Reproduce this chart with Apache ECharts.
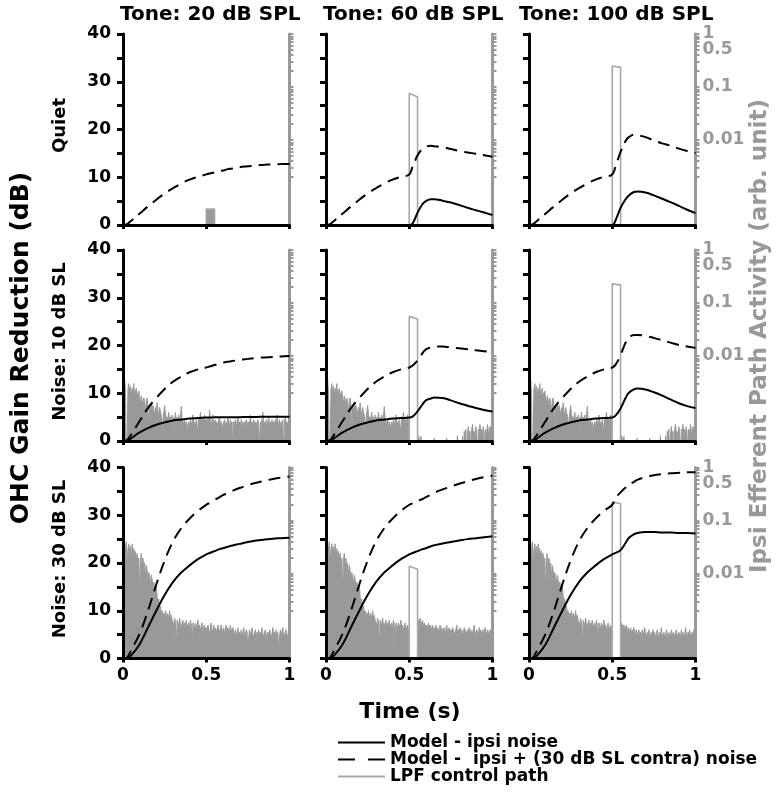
<!DOCTYPE html>
<html><head><meta charset="utf-8">
<script src="https://cdn.jsdelivr.net/npm/echarts@6/dist/echarts.min.js"></script>
<style>html,body{margin:0;padding:0;background:#fff}#chart{width:780px;height:793px}</style>
</head><body><div id="chart"></div>
<script>
// ---------- text ----------
const columnTitles = ['Tone: 20 dB SPL', 'Tone: 60 dB SPL', 'Tone: 100 dB SPL'];
const rowTitles = ['Quiet', 'Noise: 10 dB SL', 'Noise: 30 dB SL'];
const seriesNames = ['Model - ipsi noise', 'Model -  ipsi + (30 dB SL contra) noise', 'LPF control path'];
const leftAxisTitle = 'OHC Gain Reduction (dB)';
const rightAxisTitle = 'Ipsi Efferent Path Activity (arb. unit)';
const xAxisTitle = 'Time (s)';
const rightLabelValues = [1, 0.1, 0.01];
const rightExtraLabelValues = [0.5];

// ---------- model curves: OHC gain reduction (dB) ----------
const tPre = [0, 0.02, 0.05, 0.1, 0.15, 0.2, 0.25, 0.3, 0.35, 0.4, 0.45, 0.5];
const tPost = [0.52, 0.55, 0.58, 0.6, 0.63, 0.65, 0.7, 0.75, 0.8, 0.85, 0.9, 0.95, 1];

const quietIpsiPre = [0, 0, 0, 0, 0, 0, 0, 0, 0, 0, 0, 0];
const quietContraPre = [0, 0.1, 0.9, 2.4, 3.9, 5.3, 6.6, 7.7, 8.7, 9.5, 10.1, 10.6];
const quietIpsi20 = [0, 0, 0, 0, 0, 0, 0, 0, 0, 0, 0, 0, 0];
const quietContra20 = [10.8, 11.0, 11.3, 11.4, 11.7, 11.8, 12.1, 12.3, 12.5, 12.6, 12.7, 12.75, 12.8];
const quietIpsi60 = [0.3, 2.6, 4.4, 5.0, 5.4, 5.4, 5.1, 4.7, 4.2, 3.6, 3.1, 2.6, 2.1];
const quietContra60 = [12.2, 14.6, 16.0, 16.4, 16.6, 16.5, 16.3, 15.9, 15.5, 15.2, 14.9, 14.6, 14.3];
const quietIpsi100 = [1.0, 3.6, 5.4, 6.2, 6.9, 7.0, 6.8, 6.2, 5.5, 4.8, 4.0, 3.2, 2.5];
const quietContra100 = [12.3, 15.3, 17.6, 18.4, 18.9, 18.8, 18.4, 17.7, 17.1, 16.6, 16.0, 15.5, 15.1];

const n10IpsiPre = [0, 0, 0.6, 1.8, 2.7, 3.4, 3.9, 4.3, 4.5, 4.7, 4.8, 4.9];
const n10ContraPre = [0, 0.1, 1.4, 4.2, 6.9, 9.0, 10.9, 12.4, 13.5, 14.4, 15.0, 15.4];
const n10Ipsi20 = [4.9, 5.0, 5.0, 5.0, 5.0, 5.0, 5.0, 5.05, 5.05, 5.1, 5.1, 5.1, 5.1];
const n10Contra20 = [15.6, 15.9, 16.2, 16.4, 16.6, 16.7, 17.0, 17.2, 17.4, 17.5, 17.6, 17.7, 17.8];
const n10Ipsi60 = [5.1, 6.2, 7.7, 8.5, 8.9, 9.1, 9.0, 8.5, 7.9, 7.4, 6.9, 6.5, 6.2];
const n10Contra60 = [15.8, 16.9, 18.4, 19.2, 19.6, 19.8, 19.8, 19.6, 19.4, 19.2, 19.0, 18.8, 18.6];
const n10Ipsi100 = [5.3, 6.8, 9.0, 10.1, 10.8, 11.0, 10.8, 10.2, 9.5, 8.7, 7.9, 7.3, 6.9];
const n10Contra100 = [16.0, 18.0, 20.6, 21.6, 22.2, 22.2, 22.0, 21.6, 21.1, 20.6, 20.1, 19.8, 19.5];

const n30IpsiPre = [0, 0, 0.7, 3.0, 6.5, 10.0, 13.3, 16.0, 18.0, 19.5, 20.8, 21.8];
const n30ContraPre = [0, 0.1, 1.8, 5.2, 10.0, 15.5, 20.5, 24.5, 27.3, 29.3, 30.9, 32.2];
const n30Ipsi20 = [22.1, 22.5, 22.9, 23.1, 23.4, 23.6, 24.0, 24.4, 24.7, 24.9, 25.1, 25.2, 25.3];
const n30Contra20 = [32.6, 33.2, 33.8, 34.2, 34.7, 35.0, 35.7, 36.3, 36.8, 37.2, 37.6, 37.9, 38.1];
const n30Ipsi60 = [22.1, 22.5, 22.9, 23.1, 23.5, 23.7, 24.1, 24.4, 24.7, 25.0, 25.2, 25.4, 25.6];
const n30Contra60 = [32.5, 33.0, 33.4, 33.8, 34.3, 34.7, 35.4, 36.0, 36.6, 37.1, 37.6, 38.0, 38.3];
const n30Ipsi100 = [22.1, 22.7, 24.2, 25.3, 26.0, 26.3, 26.5, 26.5, 26.4, 26.4, 26.3, 26.3, 26.2];
const n30Contra100 = [33.6, 34.8, 35.8, 36.3, 37.0, 37.4, 38.0, 38.4, 38.6, 38.8, 38.9, 39.0, 39.0];

// ---------- LPF control path: log10(arb. unit), sampled every 5 ms ----------
const noiseStep = 0.005;
const n10NoisePre = [
  -2.48,-2.61,-2.43,-2.70,-4,-3.51,
  -2.61,-2.52,-2.70,-2.57,-2.75,-2.61,-2.66,-2.52,-2.79,-2.66,-2.61,-2.75,-2.70,-2.66,
  -2.79,-2.88,-2.75,-2.84,-2.93,-2.79,-2.88,-3.06,-2.84,-2.79,-2.93,-3.45,
  -2.97,-3.02,-2.88,-3.06,-2.93,-3.02,-3.11,-2.97,-3.06,-2.88,-3.02,-3.15,-2.97,-3.06,-3.11,-3.50,-3.20,-3.06,-2.93,-3.11,
  -3.11,-3.20,-3.15,-3.06,-3.24,-3.15,-3.20,-3.11,-3.55,-3.15,-3.20,-3.06,-3.24,-3.15,-3.20,-3.11,-3.24,-3.15,-2.95,-3.20,
  -3.24,-3.29,-3.20,-3.33,-3.24,-3.50,-3.29,-3.24,-3.33,-3.20,-3.29,-3.24,-3.11,-3.29,-3.24,-3.33,-3.20,-3.55,-3.29,-3.15,
  -3.20,-3.06,-3.24,-3.15,-3.29,-3.20,-3.11,-3.24];
const n10NoisePost20 = [
  -3.20,-3.29,-3.15,-3.24,-3.02,-3.24,-3.29,-3.20,-3.11,-3.33,-3.24,-3.20,-3.29,-3.24,-3.33,-3.20,-3.15,-3.29,-3.24,-3.38,
  -3.29,-3.24,-3.20,-3.33,-3.24,-3.29,-3.15,-3.24,-3.33,-3.20,-3.29,-3.24,-3.90,-3.24,-3.29,-3.20,-3.33,-3.24,-3.15,-3.29,
  -3.24,-3.33,-3.20,-3.29,-3.24,-3.38,-3.24,-3.29,-3.20,-3.24,-3.33,-3.24,-3.29,-3.11,-3.29,-3.24,-3.33,-3.20,-3.29,-3.24,
  -3.33,-3.24,-3.20,-3.29,-3.80,-3.24,-3.29,-3.20,-3.06,-3.29,-3.24,-3.33,-3.20,-3.29,-3.24,-3.15,-3.33,-3.24,-3.29,-3.20,
  -3.33,-3.24,-3.29,-3.20,-3.33,-3.11,-3.24,-3.29,-3.20,-3.33,-3.24,-3.29,-3.20,-3.90,-3.24,-3.15,-3.29,-3.24,-3.33,-3.20,-3.24];
const n10NoiseTonePost = [
  -4,-4,-4,-4,-4,-4,-4,-4,-4,-4,-4,
  -3.50,-3.56,-4,-3.51,-4,-4,
  -4,-4,-4,-4,-4,-4,-4,-4,-4,-4,-4,-4,-4,-3.55,-4,-4,-4,-4,-4,-4,-4,-4,-4,-4,-4,-4,-4,-4,-3.55,
  -4,-4,-4,-4,-4,-4,-4,-4,-4,-4,-4,-4,-3.50,-4,-4,-4,-4,-4,
  -3.51,-4,-3.42,-3.56,-3.38,-4,-3.47,-3.33,-3.51,-3.42,-4,-3.38,-3.29,-3.47,-3.42,-3.56,-3.33,-3.47,-4,-3.38,
  -3.42,-3.29,-3.51,-3.38,-3.47,-3.33,-4,-3.42,-3.38,-3.51,-3.29,-3.42,-3.47,-3.33,-3.38,-3.51,-3.42];
const n30NoisePre = [
  -1.49,-1.94,-1.44,-1.58,-1.40,-1.89,-1.53,-1.44,-1.62,-1.49,-1.71,-1.44,-1.58,-1.53,-1.67,-1.58,-1.76,
  -1.62,-1.85,-1.71,-2.39,-1.76,-1.62,-1.89,-1.71,-1.94,-1.80,-2.07,-1.85,
  -1.94,-2.16,-1.98,-2.07,-2.21,-2.03,-2.12,-2.30,-2.16,-2.25,-2.34,-2.21,
  -2.43,-2.57,-2.48,-2.66,-2.61,-2.75,
  -2.70,-2.84,-2.75,-2.79,-2.70,-2.88,-2.75,-2.79,-2.84,-2.70,-2.84,-2.79,-2.88,
  -2.88,-2.97,-2.84,-2.93,-3.45,-2.88,-2.93,-2.97,-2.84,-2.97,-3.02,-2.93,-2.88,-3.06,-2.93,-2.97,
  -2.88,-3.02,-2.97,-2.93,-3.06,-2.88,-2.97,-3.50,-2.93,-2.97,-3.06,-2.93,-3.02,-2.97,-2.88,-3.02,
  -2.97,-3.06,-3.02,-2.93,-3.11,-3.02,-2.97,-3.06];
const n30NoisePost20 = [
  -3.02,-3.11,-2.97,-3.06,-3.15,-3.02,-2.93,-3.11,-3.06,-2.97,-3.11,-3.02,-3.06,-3.15,-2.97,-3.06,-3.11,-3.02,-2.97,-3.11,
  -3.06,-3.02,-3.15,-3.06,-2.97,-3.11,-3.02,-3.06,-3.11,-2.97,-3.06,-3.15,-3.02,
  -3.11,-3.15,-3.06,-3.20,-3.11,-3.02,-3.15,-3.11,-3.20,-3.06,-3.15,-3.11,-3.02,-3.20,-3.15,-3.06,-3.11,-3.50,-3.20,-3.06,
  -3.15,-3.11,-3.02,-3.15,-3.20,-3.11,-3.06,-3.15,-3.11,-3.20,-3.06,-3.15,-3.11,-3.15,-3.02,-3.20,-3.15,-3.11,-3.06,-3.15,
  -3.20,-3.11,-3.15,-3.06,-3.11,-3.20,-3.15,-3.02,-3.15,-3.11,-3.20,-3.06,-3.15,-3.11,-3.50,-3.20,-3.06,-3.11,-3.15,-3.02,
  -3.20,-3.15,-3.11,-3.06,-3.15,-3.20,-3.11,-3.15];
const n30NoisePost60 = [
  -4,-4,-4,-4,-4,-4,-4,-4,-4,-4,-4,
  -2.88,-2.93,-2.84,-2.97,-2.93,-2.88,-3.02,-2.93,-2.97,-3.02,-2.97,-3.06,-2.93,-3.02,-2.97,-3.06,-3.02,-2.97,-3.11,-3.02,
  -3.06,-2.97,-3.11,-3.02,-3.06,-3.11,-2.97,-3.06,-3.02,-3.11,-3.06,-3.02,-3.15,-3.06,-2.97,-3.11,-3.06,-3.02,-3.15,-3.06,
  -3.11,-3.02,-3.06,-3.15,-3.11,-3.06,-2.97,-3.11,-3.06,-3.15,-3.02,-3.11,-3.06,-3.15,-3.11,-3.02,-3.06,-3.15,-3.11,-3.06,
  -3.15,-3.02,-3.11,-3.06,-3.15,-3.11,-3.06,-2.97,-3.11,-3.15,-3.06,-3.11,-3.15,-3.02,-3.11,-3.06,-3.15,-3.11,-3.06,-3.15,
  -3.02,-3.11,-3.15,-3.06,-3.11,-3.15,-3.06,-3.11,-3.02,-3.15];
const n30NoisePost100 = [
  -4,-4,-4,-4,-4,-4,-4,-4,-4,-4,-4,
  -2.93,-2.97,-3.02,-2.97,-3.06,-3.02,-2.97,-3.11,-3.02,-3.06,-3.11,-3.02,-3.15,-3.06,-3.11,-3.02,-3.15,-3.11,-3.06,-3.20,
  -3.11,-3.06,-3.15,-3.11,-3.20,-3.06,-3.15,-3.11,-3.02,-3.15,-3.20,-3.11,-3.15,-3.06,-3.20,-3.15,-3.11,-3.20,-3.06,-3.15,
  -3.11,-3.20,-3.15,-3.06,-3.15,-3.20,-3.11,-3.15,-3.02,-3.20,-3.15,-3.11,-3.20,-3.15,-3.06,-3.15,-3.20,-3.11,-3.15,-3.20,
  -3.06,-3.15,-3.11,-3.20,-3.15,-3.11,-3.06,-3.20,-3.15,-3.11,-3.15,-3.20,-3.06,-3.15,-3.11,-3.20,-3.15,-3.02,-3.15,-3.20,
  -3.11,-3.15,-3.06,-3.20,-3.15,-3.11,-3.15,-3.06,-3.20,-3.11];

// tone-evoked LPF pulse: [level at onset, level at offset] in arb. unit (null = not visible)
const toneOn = 0.5, toneOff = 0.55;
const pulseQuiet = [[5.0e-4, 5.0e-4], [0.076, 0.065], [0.25, 0.235]];
const pulseN10 = [null, [0.056, 0.050], [0.23, 0.22]];
const pulseN30 = [null, [0.0138, 0.012], [0.22, 0.21]];
const lpfFloor = 1e-4;

// ---------- assemble ----------
const curveIpsi = [
  [[quietIpsiPre, quietIpsi20], [quietIpsiPre, quietIpsi60], [quietIpsiPre, quietIpsi100]],
  [[n10IpsiPre, n10Ipsi20], [n10IpsiPre, n10Ipsi60], [n10IpsiPre, n10Ipsi100]],
  [[n30IpsiPre, n30Ipsi20], [n30IpsiPre, n30Ipsi60], [n30IpsiPre, n30Ipsi100]]];
const curveContra = [
  [[quietContraPre, quietContra20], [quietContraPre, quietContra60], [quietContraPre, quietContra100]],
  [[n10ContraPre, n10Contra20], [n10ContraPre, n10Contra60], [n10ContraPre, n10Contra100]],
  [[n30ContraPre, n30Contra20], [n30ContraPre, n30Contra60], [n30ContraPre, n30Contra100]]];
const noiseParts = [
  [null, null, null],
  [[n10NoisePre, n10NoisePost20], [n10NoisePre, n10NoiseTonePost], [n10NoisePre, n10NoiseTonePost]],
  [[n30NoisePre, n30NoisePost20], [n30NoisePre, n30NoisePost60], [n30NoisePre, n30NoisePost100]]];
const pulses = [pulseQuiet, pulseN10, pulseN30];

const colLeft = [123, 326, 529];
const rowTop = [34, 250, 467.5];
const gridW = 166.5, gridH = 191;
const FONT = '"DejaVu Sans", sans-serif';
const GRAY = '#999999';
const PULSE_GRAY = '#a8a8a8';
const LOG_MIN = 2.5e-4, LOG_MAX = 1;

function curve(parts) {
  const t = tPre.concat(tPost), v = parts[0].concat(parts[1]);
  return t.map((x, i) => [x, v[i]]);
}
function noise(parts) {
  const out = [];
  parts[0].forEach((e, i) => out.push([+(i * noiseStep).toFixed(3), Math.pow(10, e)]));
  parts[1].forEach((e, i) => out.push([+(0.5 + i * noiseStep).toFixed(3), Math.pow(10, e)]));
  return out;
}
const rightTicks = [];
for (let d = -3; d <= -1; d++) for (let k = 1; k <= 9; k++) { const v = +(k * Math.pow(10, d)).toPrecision(3); if (v >= 0.002) rightTicks.push(v); }
rightTicks.push(1);

const rightLabelStyle = {color: GRAY, fontFamily: FONT, fontWeight: 'bold', fontSize: 17, margin: 7,
  showMinLabel: true, showMaxLabel: true, formatter: v => String(+(+v).toPrecision(2))};

const grid = [], xAxis = [], yAxis = [], series = [];
for (let r = 0; r < 3; r++) for (let c = 0; c < 3; c++) {
  const gi = r * 3 + c;
  grid.push({left: colLeft[c], top: rowTop[r], width: gridW, height: gridH});
  xAxis.push({gridIndex: gi, type: 'value', min: 0, max: 1, interval: 0.5, z: 5,
    axisLine: {show: true, onZero: false, lineStyle: {color: '#000', width: 3}},
    axisTick: {show: true, length: 4, lineStyle: {color: '#000', width: 3}},
    axisLabel: {show: r === 2, margin: 9, color: '#000', fontFamily: FONT, fontWeight: 'bold', fontSize: 17,
      showMinLabel: true, showMaxLabel: true},
    splitLine: {show: false}});
  const leftIdx = yAxis.length;
  yAxis.push({gridIndex: gi, type: 'value', min: 0, max: 40, interval: 5, position: 'left', z: 5,
    axisLine: {show: true, onZero: false, lineStyle: {color: '#000', width: 3}},
    axisTick: {show: true, length: 6, lineStyle: {color: '#000', width: 3}},
    axisLabel: {show: c === 0, margin: 12, color: '#000', fontFamily: FONT, fontWeight: 'bold', fontSize: 17,
      showMinLabel: true, showMaxLabel: true,
      formatter: v => (v % 10 === 0 ? String(v) : '')},
    splitLine: {show: false}});
  const rightIdx = yAxis.length;
  yAxis.push({gridIndex: gi, type: 'log', logBase: 10, min: LOG_MIN, max: LOG_MAX, position: 'right', z: 1,
    axisLine: {show: true, onZero: false, lineStyle: {color: GRAY, width: 3}},
    axisTick: {show: true, length: 4, customValues: rightTicks, lineStyle: {color: GRAY, width: 2}},
    axisLabel: Object.assign({show: c === 2, customValues: rightLabelValues}, rightLabelStyle),
    minorTick: {show: false}, splitLine: {show: false}});
  if (c === 2) yAxis.push({gridIndex: gi, type: 'log', logBase: 10, min: LOG_MIN, max: LOG_MAX, position: 'right', z: 1,
    axisLine: {show: false}, axisTick: {show: false},
    axisLabel: Object.assign({show: true, customValues: rightExtraLabelValues}, rightLabelStyle),
    minorTick: {show: false}, splitLine: {show: false}});

  const np = noiseParts[r][c];
  if (np) series.push({type: 'line', name: seriesNames[2], xAxisIndex: gi, yAxisIndex: rightIdx,
    data: noise(np), symbol: 'none', z: 1, lineStyle: {color: GRAY, width: 1},
    itemStyle: {color: GRAY}, areaStyle: {color: GRAY, opacity: 1, origin: 'start'}});
  const p = pulses[r][c];
  if (p) series.push({type: 'line', name: seriesNames[2], xAxisIndex: gi, yAxisIndex: rightIdx,
    data: [[toneOn, lpfFloor], [toneOn, p[0]], [toneOff, p[1]], [toneOff, lpfFloor]],
    symbol: 'none', z: 1, lineStyle: {color: PULSE_GRAY, width: 1.6}, itemStyle: {color: PULSE_GRAY},
    areaStyle: (r === 0 && c === 0) ? {color: GRAY, opacity: 1, origin: 'start'} : undefined});
  series.push({type: 'line', name: seriesNames[0], xAxisIndex: gi, yAxisIndex: leftIdx,
    data: curve(curveIpsi[r][c]), symbol: 'none', smooth: 0.4, z: 3,
    lineStyle: {color: '#000', width: 2}, itemStyle: {color: '#000'}});
  series.push({type: 'line', name: seriesNames[1], xAxisIndex: gi, yAxisIndex: leftIdx,
    data: curve(curveContra[r][c]), symbol: 'none', smooth: 0.4, z: 3,
    lineStyle: {color: '#000', width: 2, type: [12, 7]}, itemStyle: {color: '#000'}});
}

const graphic = [];
columnTitles.forEach((t, c) => graphic.push({type: 'text', x: colLeft[c] + gridW / 2 + 4, y: 15,
  style: {text: t, align: 'center', verticalAlign: 'middle', font: 'bold 20px ' + FONT, fill: '#000'}}));
rowTitles.forEach((t, r) => graphic.push({type: 'text', x: 60, y: rowTop[r] + gridH / 2 - 4, rotation: Math.PI / 2,
  style: {text: t, align: 'center', verticalAlign: 'middle', font: 'bold 18px ' + FONT, fill: '#000'}}));
graphic.push({type: 'text', x: 21, y: 348, rotation: Math.PI / 2,
  style: {text: leftAxisTitle, align: 'center', verticalAlign: 'middle', font: 'bold 25px ' + FONT, fill: '#000'}});
graphic.push({type: 'text', x: 760, y: 336, rotation: Math.PI / 2,
  style: {text: rightAxisTitle, align: 'center', verticalAlign: 'middle', font: 'bold 23px ' + FONT, fill: GRAY}});
graphic.push({type: 'text', x: 410, y: 712,
  style: {text: xAxisTitle, align: 'center', verticalAlign: 'middle', font: 'bold 22px ' + FONT, fill: '#000'}});

const chart = echarts.init(document.getElementById('chart'), null, {renderer: 'canvas'});
chart.setOption({
  animation: false,
  backgroundColor: '#fff',
  grid, xAxis, yAxis, series, graphic,
  legend: {
    data: [
      {name: seriesNames[0], icon: 'path://M0,0h47v2h-47z'},
      {name: seriesNames[1], icon: 'path://M0,0h17v2h-17zM30,0h17v2h-17z'},
      {name: seriesNames[2], icon: 'path://M0,0h47v2h-47z'}],
    orient: 'vertical', left: 338, top: 734, itemWidth: 47, itemHeight: 2, itemGap: 0, padding: 0,
    selectedMode: false,
    textStyle: {color: '#000', fontFamily: FONT, fontWeight: 'bold', fontSize: 17, lineHeight: 16}
  }
});
</script></body></html>
